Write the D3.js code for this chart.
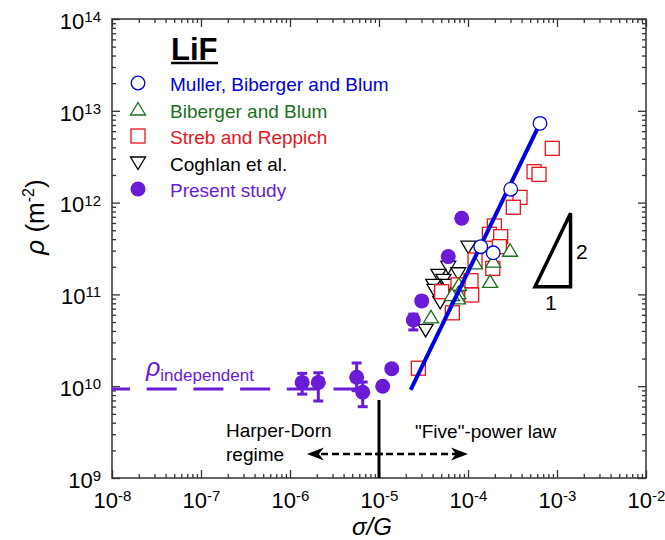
<!DOCTYPE html>
<html>
<head>
<meta charset="utf-8">
<script src="https://cdn.jsdelivr.net/npm/d3@7"></script>
<style>
  body { margin: 0; background: #fff; }
  text { font-family: "Liberation Sans", Arial, sans-serif; }
</style>
</head>
<body>
<div id="graph"></div>
<script>
// Muller, Biberger and Blum
var muX = [6.44e-4, 3.02e-4, 1.39e-4, 1.92e-4];
var muY = [7.3e12, 1.40e12, 3.31e11, 2.84e11];
// slope-2 fit line
var fitX = [2.27e-5, 6.44e-4];
var fitY = [9.1e9, 7.3e12];
// Biberger and Blum
var bbX = [1.2e-4, 2.97e-4, 1.77e-4, 1.92e-4, 7.9e-5, 7.78e-5, 7.7e-5, 6.6e-5, 3.84e-5];
var bbY = [2.18e11, 2.99e11, 1.37e11, 2.27e11, 1.27e11, 1.03e11, 9.06e10, 9.8e10, 5.63e10];
// Streb and Reppich
var srX = [8.85e-4, 5.52e-4, 6.28e-4, 3.84e-4, 3.23e-4, 1.98e-4, 1.74e-4, 2.33e-4, 2.25e-4, 1.2e-4, 1.9e-4, 1.08e-4, 1.1e-4, 6.67e-5, 2.77e-5, 7.72e-5, 5.06e-5];
var srY = [3.9e12, 2.17e12, 2.03e12, 1.14e12, 8.9e11, 5.56e11, 4.52e11, 4.25e11, 3.31e11, 2.37e11, 1.92e11, 1.41e11, 9.85e10, 6.3e10, 1.57e10, 1.27e11, 1.07e11];
// Coghlan et al.
var coX = [1.01e-4, 6.0e-5, 4.65e-5, 5.3e-5, 7.78e-5, 4.07e-5, 4.2e-5, 5.06e-5, 4.87e-5, 3.34e-5, 6.0e-5];
var coY = [3.31e11, 2.0e11, 1.63e11, 1.44e11, 1.70e11, 1.27e11, 1.12e11, 9.44e10, 8.3e10, 4.1e10, 1.27e11];
// Present study
var psX = [1.37e-6, 2.08e-6, 5.61e-6, 6.56e-6, 1.10e-5, 1.39e-5, 2.43e-5, 3.02e-5, 6.0e-5, 8.5e-5];
var psY = [1.10e10, 1.10e10, 1.25e10, 8.59e9, 1.0e10, 1.55e10, 5.26e10, 8.5e10, 2.58e11, 6.75e11];
var psLo = [8.2e9, 6.9e9, 8.93e9, 5.98e9, null, null, 4.1e10, null, null, null];
var psHi = [1.38e10, 1.40e10, 1.79e10, 1.11e10, null, null, 6.1e10, null, null, null];
// rho independent level
var rhoIndep = 9.32e9;
var rhoIndepX = [1e-8, 6.6e-6];

var legendLabels = ["Muller, Biberger and Blum", "Biberger and Blum", "Streb and Reppich", "Coghlan et al.", "Present study"];
var xMajor = [1e-8, 1e-7, 1e-6, 1e-5, 1e-4, 1e-3, 1e-2];
var yMajor = [1e9, 1e10, 1e11, 1e12, 1e13, 1e14];

(function() {
var blue = "#0000e0", green = "#1e6e1e", red = "#e8141c", purple = "#6a1bd6";

var width = 665, height = 540;
var mLeft = 112, mRight = 646, mTop = 19, mBottom = 478;

var x = d3.scaleLog().domain([1e-8, 1e-2]).range([mLeft, mRight]);
var y = d3.scaleLog().domain([1e9, 1e14]).range([mBottom, mTop]);

var svg = d3.select("#graph").append("svg")
    .attr("width", width)
    .attr("height", height);

function zip(a, b) { return a.map(function(v, i) { return [v, b[i]]; }); }
function minors(major) {
  var out = [];
  major.slice(0, -1).forEach(function(m) { for (var k = 2; k <= 9; k++) out.push(m * k); });
  return out;
}

function sup(sel) {
  sel.each(function(d) {
    var t = d3.select(this);
    var e = Math.round(Math.log10(d));
    t.text(null);
    t.append("tspan").text("10");
    t.append("tspan").attr("dy", "-0.45em").attr("font-size", 15).text(e);
  });
}

var axisColor = "#333";
// ticks inward on all four sides, labels only bottom and left
var axes = [
  { ax: d3.axisBottom(x), tr: "translate(0," + mBottom + ")", major: xMajor, label: true },
  { ax: d3.axisTop(x), tr: "translate(0," + mTop + ")", major: xMajor, label: false },
  { ax: d3.axisLeft(y), tr: "translate(" + mLeft + ",0)", major: yMajor, label: true },
  { ax: d3.axisRight(y), tr: "translate(" + mRight + ",0)", major: yMajor, label: false }
];
axes.forEach(function(a, i) {
  var gMin = svg.append("g").attr("transform", a.tr)
    .call(a.ax.tickValues(minors(a.major)).tickSize(-4).tickFormat(""));
  gMin.select(".domain").remove();
  gMin.selectAll(".tick text").remove();
  var gMaj = svg.append("g").attr("transform", a.tr)
    .call(a.ax.tickValues(a.major).tickSize(-8).tickPadding(i === 0 ? 14 : 11)
      .tickFormat(function(d) { return d; }));
  gMaj.select(".domain").remove();
  if (a.label) {
    gMaj.selectAll(".tick text").attr("font-size", 22).attr("fill", "#000")
      .attr("font-family", "Liberation Sans, Arial, sans-serif")
      .call(sup);
    if (i === 2) gMaj.selectAll(".tick text").attr("dy", "0.42em");
  } else {
    gMaj.selectAll(".tick text").remove();
  }
  svg.selectAll(".tick line").attr("stroke", axisColor).attr("stroke-width", 1.3);
});

svg.append("rect")
  .attr("x", mLeft).attr("y", mTop)
  .attr("width", mRight - mLeft).attr("height", mBottom - mTop)
  .attr("fill", "none").attr("stroke", axisColor).attr("stroke-width", 1.5);

// axis titles
svg.append("text")
  .attr("transform", "translate(44,217) rotate(-90)")
  .attr("text-anchor", "middle")
  .attr("font-size", 26)
  .call(function(t) {
    t.append("tspan").attr("font-style", "italic").text("ρ");
    t.append("tspan").text(" (m");
    t.append("tspan").attr("dy", -10).attr("font-size", 16).text("-2");
    t.append("tspan").attr("dy", 10).text(")");
  });
svg.append("text")
  .attr("x", 372).attr("y", 535)
  .attr("text-anchor", "middle")
  .attr("font-size", 24)
  .attr("font-style", "italic")
  .text("σ/G");

// rho independent dashed line
svg.append("line")
  .attr("x1", x(rhoIndepX[0])).attr("x2", x(rhoIndepX[1]))
  .attr("y1", y(rhoIndep)).attr("y2", y(rhoIndep))
  .attr("stroke", purple).attr("stroke-width", 3)
  .attr("stroke-dasharray", "30,16.7").attr("stroke-dashoffset", 12);
svg.append("text")
  .attr("x", 146).attr("y", 376)
  .attr("fill", purple)
  .call(function(t) {
    t.append("tspan").attr("font-size", 25).attr("font-style", "italic").text("ρ");
    t.append("tspan").attr("font-size", 17).attr("dy", 5).text("independent");
  });

// regime divider and arrows
var xDiv = x(1e-5), yArrow = 454;
svg.append("line")
  .attr("x1", xDiv).attr("x2", xDiv).attr("y1", 400).attr("y2", mBottom)
  .attr("stroke", "#000").attr("stroke-width", 3);
[[1.55e-6, 1], [1e-4, -1]].forEach(function(a) {
  var tip = x(a[0]), s = a[1];
  svg.append("line")
    .attr("x1", xDiv + 4 * s).attr("x2", tip + 12 * s)
    .attr("y1", yArrow).attr("y2", yArrow)
    .attr("stroke", "#000").attr("stroke-width", 2.5)
    .attr("stroke-dasharray", "7,4");
  svg.append("path")
    .attr("d", "M" + tip + "," + yArrow + "L" + (tip + 17 * s) + "," + (yArrow - 6.5) +
      "L" + (tip + 12 * s) + "," + yArrow + "L" + (tip + 17 * s) + "," + (yArrow + 6.5) + "Z")
    .attr("fill", "#000");
});
svg.append("text").attr("x", 226).attr("y", 437).attr("font-size", 19).text("Harper-Dorn");
svg.append("text").attr("x", 226).attr("y", 461).attr("font-size", 19).text("regime");
svg.append("text").attr("x", 415).attr("y", 438).attr("font-size", 19).text("\"Five\"-power law");

// slope triangle 1:2
var tx0 = 5.66e-4, tx1 = 1.42e-3, ty0 = 1.21e11, ty1 = ty0 * Math.pow(10, 0.8);
svg.append("path")
  .attr("d", "M" + x(tx0) + "," + y(ty0) + "L" + x(tx1) + "," + y(ty0) + "L" + x(tx1) + "," + y(ty1) + "Z")
  .attr("fill", "none").attr("stroke", "#000").attr("stroke-width", 3.5);
svg.append("text").attr("x", 576).attr("y", 259).attr("font-size", 21).text("2");
svg.append("text").attr("x", 545).attr("y", 310).attr("font-size", 21).text("1");

// markers
function triUp(cx, cy) {
  return "M" + cx + "," + (cy - 7) + "L" + (cx + 7.5) + "," + (cy + 5.5) + "L" + (cx - 7.5) + "," + (cy + 5.5) + "Z";
}
function triDown(cx, cy) {
  return "M" + cx + "," + (cy + 7) + "L" + (cx + 7.5) + "," + (cy - 5.5) + "L" + (cx - 7.5) + "," + (cy - 5.5) + "Z";
}

svg.append("g").selectAll("path")
  .data(zip(coX, coY)).enter().append("path")
  .attr("d", function(d) { return triDown(x(d[0]), y(d[1])); })
  .attr("fill", "#fff").attr("stroke", "#000").attr("stroke-width", 1.3);

svg.append("g").selectAll("rect")
  .data(zip(srX, srY)).enter().append("rect")
  .attr("x", function(d) { return x(d[0]) - 7; })
  .attr("y", function(d) { return y(d[1]) - 7; })
  .attr("width", 14).attr("height", 14)
  .attr("fill", "#fff").attr("stroke", red).attr("stroke-width", 1.3);

svg.append("g").selectAll("path")
  .data(zip(bbX, bbY)).enter().append("path")
  .attr("d", function(d) { return triUp(x(d[0]), y(d[1])); })
  .attr("fill", "#fff").attr("stroke", green).attr("stroke-width", 1.3);

// present study with error bars
var ps = psX.map(function(v, i) { return { x: v, y: psY[i], lo: psLo[i], hi: psHi[i] }; });
var eb = svg.append("g").attr("stroke", purple).attr("stroke-width", 3);
ps.filter(function(d) { return d.lo !== null; }).forEach(function(d) {
  var cx = x(d.x);
  eb.append("line").attr("x1", cx).attr("x2", cx).attr("y1", y(d.lo)).attr("y2", y(d.hi));
  eb.append("line").attr("x1", cx - 5).attr("x2", cx + 5).attr("y1", y(d.lo)).attr("y2", y(d.lo));
  eb.append("line").attr("x1", cx - 5).attr("x2", cx + 5).attr("y1", y(d.hi)).attr("y2", y(d.hi));
});
svg.append("g").selectAll("circle")
  .data(ps).enter().append("circle")
  .attr("cx", function(d) { return x(d.x); })
  .attr("cy", function(d) { return y(d.y); })
  .attr("r", 7.5)
  .attr("fill", purple);

// fit line and Muller points
svg.append("path")
  .datum(zip(fitX, fitY))
  .attr("d", d3.line().x(function(d) { return x(d[0]); }).y(function(d) { return y(d[1]); }))
  .attr("stroke", blue).attr("stroke-width", 4).attr("fill", "none");
svg.append("g").selectAll("circle")
  .data(zip(muX, muY)).enter().append("circle")
  .attr("cx", function(d) { return x(d[0]); })
  .attr("cy", function(d) { return y(d[1]); })
  .attr("r", 6.8)
  .attr("fill", "#fff").attr("stroke", blue).attr("stroke-width", 1.3);

// legend
svg.append("text")
  .attr("x", 171).attr("y", 60)
  .attr("font-size", 31).attr("font-weight", "bold")
  .text("LiF");
svg.append("line")
  .attr("x1", 171).attr("x2", 218).attr("y1", 63).attr("y2", 63)
  .attr("stroke", "#000").attr("stroke-width", 2.5);

var legColors = [blue, green, red, "#000", purple];
legendLabels.forEach(function(lab, i) {
  var base = 91 + i * 26.5, cy = base - 8, cx = 138;
  var g = svg.append("g");
  if (i === 0) g.append("circle").attr("cx", cx).attr("cy", cy).attr("r", 6.8)
    .attr("fill", "#fff").attr("stroke", blue).attr("stroke-width", 1.3);
  if (i === 1) g.append("path").attr("d", triUp(cx, cy))
    .attr("fill", "#fff").attr("stroke", green).attr("stroke-width", 1.3);
  if (i === 2) g.append("rect").attr("x", cx - 7).attr("y", cy - 7).attr("width", 14).attr("height", 14)
    .attr("fill", "#fff").attr("stroke", red).attr("stroke-width", 1.3);
  if (i === 3) g.append("path").attr("d", triDown(cx, cy))
    .attr("fill", "#fff").attr("stroke", "#000").attr("stroke-width", 1.3);
  if (i === 4) g.append("circle").attr("cx", cx).attr("cy", cy).attr("r", 7.5).attr("fill", purple);
  g.append("text").attr("x", 170).attr("y", base)
    .attr("font-size", 19).attr("fill", legColors[i]).text(lab);
});
})();
</script>
</body>
</html>
